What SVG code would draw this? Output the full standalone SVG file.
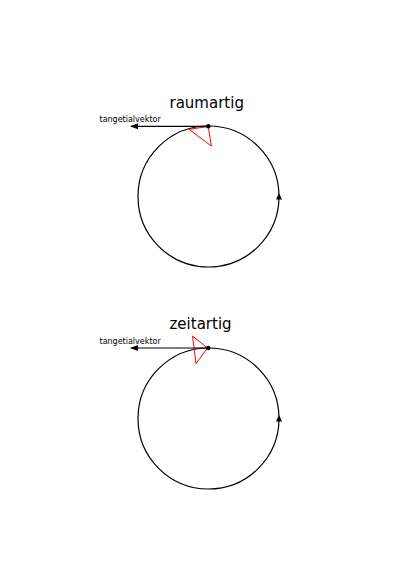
<svg xmlns="http://www.w3.org/2000/svg" width="413" height="585" viewBox="0 0 413 585">
<style>
.c{fill:none;stroke:#000;stroke-width:1.2}
.t{fill:none;stroke:#000;stroke-width:1.2}
.r{fill:none;stroke:#f00;stroke-width:1}
.lbl{font-family:"DejaVu Sans",sans-serif;fill:#000}
</style>
<defs>
<marker id="ah" markerWidth="8" markerHeight="6" refX="7" refY="3" orient="auto" markerUnits="userSpaceOnUse">
<path d="M0,0 L8,3 L0,6 Z" fill="#000"/>
</marker>
</defs>
<rect width="413" height="585" fill="#fff"/>
<g id="raumartig">
<text class="lbl" x="169.5" y="108" font-size="15">raumartig</text>
<text class="lbl" x="99.5" y="122" font-size="8">tangetialvektor</text>
<circle class="c" cx="208.5" cy="196.5" r="70.5"/>
<polygon class="r" points="189,129.3 208.3,126.5 211.3,146"/>
<path d="M276,199.5 L279,193 L282,199.5 Z" fill="#000"/>
<circle cx="208.3" cy="126.3" r="2.2" fill="#000"/>
</g>
<g id="zeitartig">
<text class="lbl" x="169.5" y="329" font-size="15">zeitartig</text>
<text class="lbl" x="99.5" y="344" font-size="8">tangetialvektor</text>
<circle class="c" cx="208.5" cy="418.5" r="70.5"/>
<polygon class="r" points="192.5,336 207.5,348 196,363.5"/>
<path d="M276,421.5 L279,415 L282,421.5 Z" fill="#000"/>
<circle cx="208.3" cy="348" r="2.2" fill="#000"/>
</g>
<g id="connectors">
<line class="t" x1="208.3" y1="126.3" x2="131" y2="126.3" marker-end="url(#ah)"/>
<line class="t" x1="208.3" y1="348" x2="131" y2="348" marker-end="url(#ah)"/>
</g>
</svg>
